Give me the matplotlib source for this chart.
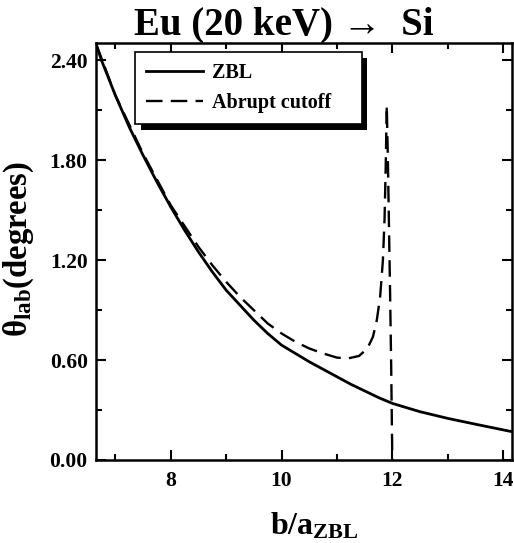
import numpy as np
import matplotlib.pyplot as plt
import matplotlib.patheffects as pe

# values
zbl_x = [6.65, 6.75, 7.0, 7.25, 7.5, 7.75, 8.0, 8.25, 8.5, 8.75, 9.0, 9.25, 9.5, 9.75, 10.0,
         10.25, 10.5, 10.75, 11.0, 11.25, 11.5, 11.75, 12.0, 12.5, 13.0, 13.5, 14.16]
zbl_y = [2.50, 2.40, 2.19, 2.00, 1.83, 1.67, 1.52, 1.38, 1.25, 1.13, 1.02, 0.93, 0.84, 0.76, 0.69,
         0.64, 0.59, 0.545, 0.50, 0.455, 0.415, 0.375, 0.34, 0.29, 0.25, 0.215, 0.17]

cut_x = [6.65, 7.0, 7.5, 8.0, 8.5, 8.75, 9.0, 9.25, 9.5, 9.75, 10.0, 10.25, 10.5, 10.75, 11.0,
         11.2, 11.4, 11.55, 11.65, 11.72, 11.78, 11.83, 11.86, 11.88, 11.90, 11.92, 11.94, 11.96,
         11.98, 12.0, 12.0]
cut_y = [2.50, 2.19, 1.84, 1.53, 1.28, 1.17, 1.07, 0.98, 0.90, 0.82, 0.76, 0.71, 0.67, 0.64, 0.615,
         0.61, 0.625, 0.67, 0.74, 0.84, 0.98, 1.20, 1.45, 1.75, 2.13, 1.80, 1.40, 1.00,
         0.55, 0.0, -0.05]

xticks = [8, 10, 12, 14]
yticks = [0.0, 0.6, 1.2, 1.8, 2.4]
ytick_labels = ["0.00", "0.60", "1.20", "1.80", "2.40"]

plt.rcParams['font.family'] = ['Liberation Serif', 'DejaVu Serif']
plt.rcParams['font.weight'] = 'bold'
plt.rcParams['axes.labelweight'] = 'bold'
plt.rcParams['mathtext.fontset'] = 'custom'
plt.rcParams['mathtext.rm'] = 'Liberation Serif:bold'
plt.rcParams['mathtext.it'] = 'Liberation Serif:italic:bold'
plt.rcParams['mathtext.bf'] = 'Liberation Serif:bold'

fig = plt.figure(figsize=(5.14, 5.43), dpi=100)
ax = fig.add_axes([0.1868, 0.1529, 0.8092, 0.7679])

ax.plot(zbl_x, zbl_y, color='black', lw=2.0, label='ZBL')
ax.plot(cut_x, cut_y, color='black', lw=1.7, dashes=(7, 3.5), label='Abrupt cutoff')

ax.set_xlim(6.65, 14.16)
ax.set_ylim(0, 2.505)
ax.set_xticks(xticks)
ax.set_xticks([7, 9, 11, 13], minor=True)
ax.set_yticks(yticks)
ax.set_yticklabels(ytick_labels)
ax.set_yticks([0.3, 0.9, 1.5, 2.1], minor=True)

ax.tick_params(which='both', direction='in', top=True, right=True, width=1.5, labelsize=15.5)
ax.tick_params(which='major', length=7)
ax.tick_params(which='minor', length=4.5)
ax.tick_params(axis='x', pad=8)
ax.tick_params(axis='y', pad=6)
for s in ax.spines.values():
    s.set_linewidth(1.8)

fig.text(0.553, 0.988, 'Eu (20 keV) \u2192  Si', fontsize=28, fontweight='bold',
         ha='center', va='top')
ax.set_xlabel(r'b/a$_{\mathrm{ZBL}}$', fontsize=23)
ax.xaxis.set_label_coords(0.524, -0.122)
ax.set_ylabel(r'$\mathrm{\theta_{lab}}$(degrees)', fontsize=23.5)
ax.yaxis.set_label_coords(-0.145, 0.505)

leg = ax.legend(loc='upper left', bbox_to_anchor=(0.094, 0.5, 0.545, 0.478), mode='expand',
                borderaxespad=0, fontsize=14.5, handlelength=2.8, handletextpad=0.45,
                borderpad=0.55, labelspacing=0.5, fancybox=False, framealpha=1,
                edgecolor='black')
frame = leg.get_frame()
frame.set_linewidth(1.2)
frame.set_path_effects([pe.SimplePatchShadow(offset=(4, -4), shadow_rgbFace='black', alpha=1),
                        pe.Normal()])

fig.savefig('out.png', dpi=100)
